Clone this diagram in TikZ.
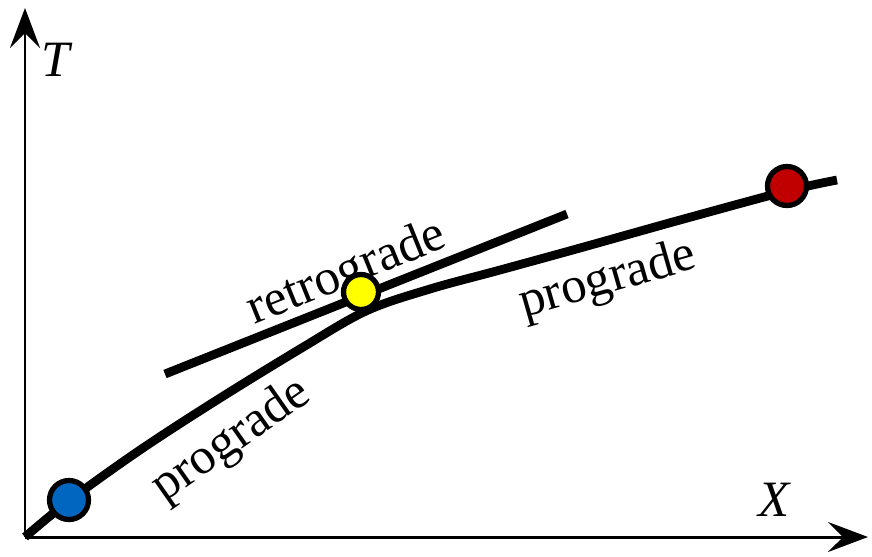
\documentclass[tikz,border=0pt]{standalone}
\usepackage{fontspec}
\setmainfont{Liberation Serif}
\usepackage{xcolor}
\usepackage{tikz}
\usetikzlibrary{arrows.meta, calc}

\definecolor{dotblue}{RGB}{0,102,192}
\definecolor{dotred}{RGB}{192,0,0}
\definecolor{dotyellow}{RGB}{255,255,0}

\begin{document}
\begin{tikzpicture}[
  x=0.02cm, y=-0.02cm,
  axis/.style={-{Stealth[length=8mm, width=6mm, inset=3mm]}, line width=1.7pt},
  branch/.style={line width=5pt},
  phase/.style={circle, draw, line width=3pt, minimum size=0.78cm, inner sep=0pt},
  lbl/.style={font=\fontsize{29}{31}\selectfont}
]

\useasboundingbox (0,0) rectangle (872,556);

% axes
\coordinate (O) at (25,537);
\coordinate (Ttip) at (25,8);
\coordinate (Xtip) at (868,537);
\draw[axis] (O) -- (Ttip);
\draw[axis] (O) -- (Xtip);
\node[lbl] (T) at (57,60) {\textit{T}};
\node[lbl] (X) at (775,500) {\textit{X}};

% labels
\node[lbl, rotate=22] (retro) at (347,274) {retrograde};
\node[lbl, rotate=16] (pro1) at (608,281) {prograde};
\node[lbl, rotate=35] (pro2) at (232,441) {prograde};

% retrograde branch
\coordinate (r1) at (165,374);
\coordinate (r2) at (567,214);
\draw[branch] (r1) -- (r2);

% prograde branch
\draw[branch] plot[smooth, tension=0.55] coordinates {
  (25,537) (70,500) (140,450) (217,400) (300,349) (366,311)
  (430,289) (500,270) (580,248) (680,220) (787,191) (837,180)};

% points
\node[phase, fill=dotblue] (start) at (69,500) {};
\node[phase, fill=dotyellow, minimum size=0.7cm] (cross) at (361,292) {};
\node[phase, fill=dotred] (end) at (787,186) {};

\end{tikzpicture}
\end{document}
